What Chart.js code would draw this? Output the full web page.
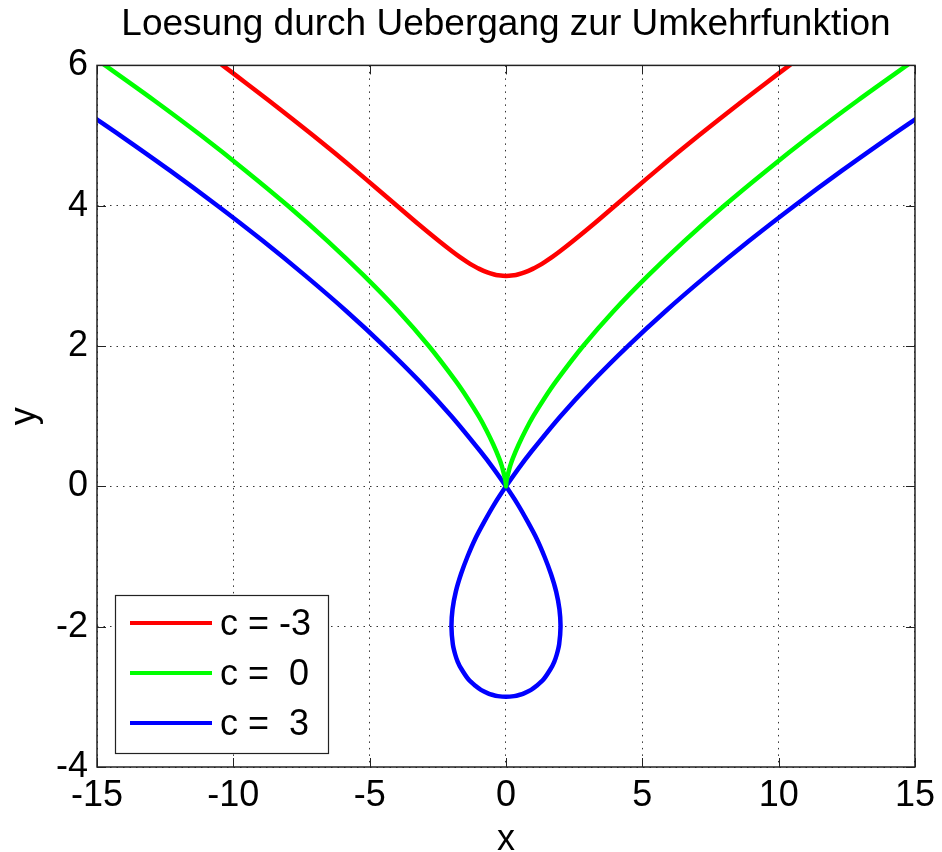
<!DOCTYPE html>
<html lang="de">
<head>
    <meta charset="UTF-8">
    <title>Loesung durch Uebergang zur Umkehrfunktion</title>
    <script src="https://cdn.jsdelivr.net/npm/chart.js"></script>
    <style>
        body { margin: 0; background: #fff; }
        canvas { display: block; }
    </style>
</head>
<body>
<canvas id="curveChart" width="942" height="852"></canvas>

<script>
    const redX = [-10.74, -10.39, -9.54, -8.70, -7.88, -7.07, -6.28, -5.51, -4.75, -4.00, -3.25, -2.47, -1.98, -1.70, -1.43, -1.22, -0.98, -0.68, -0.43, -0.30,
        0, 0.30, 0.43, 0.68, 0.98, 1.22, 1.43, 1.70, 1.98, 2.47, 3.25, 4.00, 4.75, 5.51, 6.28, 7.07, 7.88, 8.70, 9.54, 10.39, 10.74];
    const redY = [6.1, 6, 5.75, 5.5, 5.25, 5, 4.75, 4.5, 4.25, 4, 3.75, 3.5, 3.35, 3.27, 3.2, 3.15, 3.1, 3.05, 3.02, 3.01,
        3, 3.01, 3.02, 3.05, 3.1, 3.15, 3.2, 3.27, 3.35, 3.5, 3.75, 4, 4.25, 4.5, 4.75, 5, 5.25, 5.5, 5.75, 6, 6.1];

    const greenX = [-15.07, -14.70, -12.90, -11.18, -9.55, -8.00, -6.55, -5.20, -3.95, -2.83, -1.84, -1.40, -1.00, -0.72, -0.47, -0.25, -0.16, -0.09, -0.03, -0.01,
        0, 0.01, 0.03, 0.09, 0.16, 0.25, 0.47, 0.72, 1.00, 1.40, 1.84, 2.83, 3.95, 5.20, 6.55, 8.00, 9.55, 11.18, 12.90, 14.70, 15.07];
    const greenY = [6.1, 6, 5.5, 5, 4.5, 4, 3.5, 3, 2.5, 2, 1.5, 1.25, 1, 0.8, 0.6, 0.4, 0.3, 0.2, 0.1, 0.05,
        0, 0.05, 0.1, 0.2, 0.3, 0.4, 0.6, 0.8, 1, 1.25, 1.5, 2, 2.5, 3, 3.5, 4, 4.5, 5, 5.5, 6, 6.1];

    const blueX = [15.27, 14.14, 12.32, 10.58, 8.92, 7.35, 5.86, 4.47, 3.18, 2.00, 0.94, 0.45, 0,
        -0.42, -0.79, -1.13, -1.41, -1.65, -1.84, -1.96, -2.00, -1.95, -1.86, -1.77, -1.64, -1.38, -1.10, -0.92, -0.66, -0.51, -0.30,
        0, 0.30, 0.51, 0.66, 0.92, 1.10, 1.38, 1.64, 1.77, 1.86, 1.95, 2.00, 1.96, 1.84, 1.65, 1.41, 1.13, 0.79, 0.42,
        0, -0.45, -0.94, -2.00, -3.18, -4.47, -5.86, -7.35, -8.92, -10.58, -12.32, -14.14, -15.27];
    const blueY = [5.3, 5, 4.5, 4, 3.5, 3, 2.5, 2, 1.5, 1, 0.5, 0.25, 0,
        -0.25, -0.5, -0.75, -1, -1.25, -1.5, -1.75, -2, -2.25, -2.4, -2.5, -2.6, -2.75, -2.85, -2.9, -2.95, -2.97, -2.99,
        -3, -2.99, -2.97, -2.95, -2.9, -2.85, -2.75, -2.6, -2.5, -2.4, -2.25, -2, -1.75, -1.5, -1.25, -1, -0.75, -0.5, -0.25,
        0, 0.25, 0.5, 1, 1.5, 2, 2.5, 3, 3.5, 4, 4.5, 5, 5.3];

    const seriesLabels = ['c = -3', 'c =  0', 'c =  3'];
    const seriesColors = ['#ff0000', '#00ff00', '#0000ff'];
    const xTicks = [-15, -10, -5, 0, 5, 10, 15];
    const yTicks = [-4, -2, 0, 2, 4, 6];

    const FONT = 'Liberation Sans, Arial, sans-serif';

    function toPoints(xs, ys) {
        return xs.map((x, i) => ({x: x, y: ys[i]}));
    }

    // Rahmen + nach innen zeigende Ticks wie bei MATLAB
    const framePlugin = {
        id: 'frame',
        afterDatasetsDraw(chart) {
            const {ctx, chartArea: a, scales} = chart;
            ctx.save();
            ctx.strokeStyle = '#222';
            ctx.lineWidth = 1;
            ctx.beginPath();
            xTicks.forEach(v => {
                const px = Math.round(scales.x.getPixelForValue(v)) + 0.5;
                ctx.moveTo(px, a.bottom); ctx.lineTo(px, a.bottom - 9);
                ctx.moveTo(px, a.top); ctx.lineTo(px, a.top + 9);
            });
            yTicks.forEach(v => {
                const py = Math.round(scales.y.getPixelForValue(v)) + 0.5;
                ctx.moveTo(a.left, py); ctx.lineTo(a.left + 9, py);
                ctx.moveTo(a.right, py); ctx.lineTo(a.right - 9, py);
            });
            ctx.stroke();
            ctx.lineWidth = 1.5;
            ctx.strokeRect(a.left, a.top, a.right - a.left, a.bottom - a.top);
            ctx.restore();
        }
    };

    // Legende unten links im Achsenfeld
    const legendPlugin = {
        id: 'boxLegend',
        afterDraw(chart) {
            const {ctx, chartArea: a} = chart;
            const bx = a.left + 18, by = a.bottom - 172, bw = 213, bh = 158;
            ctx.save();
            ctx.fillStyle = '#fff';
            ctx.fillRect(bx, by, bw, bh);
            ctx.strokeStyle = '#222';
            ctx.lineWidth = 1.2;
            ctx.strokeRect(bx + 0.5, by + 0.5, bw, bh);
            ctx.font = '36px ' + FONT;
            ctx.textBaseline = 'middle';
            ctx.fillStyle = '#000';
            chart.data.datasets.forEach((ds, i) => {
                const ly = by + 28 + i * 50;
                ctx.strokeStyle = ds.borderColor;
                ctx.lineWidth = 4;
                ctx.beginPath();
                ctx.moveTo(bx + 15, ly);
                ctx.lineTo(bx + 97, ly);
                ctx.stroke();
                ctx.fillText(ds.label, bx + 105, ly + 2);
            });
            ctx.restore();
        }
    };

    const datasets = [
        toPoints(redX, redY),
        toPoints(greenX, greenY),
        toPoints(blueX, blueY)
    ].map((pts, i) => ({
        label: seriesLabels[i],
        data: pts,
        showLine: true,
        borderColor: seriesColors[i],
        backgroundColor: seriesColors[i],
        borderWidth: 4.5,
        pointRadius: 0,
        tension: 0.3
    }));

    const gridOpts = {
        color: '#333',
        lineWidth: 1,
        drawTicks: false
    };

    new Chart(document.getElementById('curveChart').getContext('2d'), {
        type: 'scatter',
        data: {datasets: datasets},
        options: {
            responsive: false,
            animation: false,
            devicePixelRatio: 1,
            layout: {padding: 0},
            plugins: {
                legend: {display: false},
                tooltip: {enabled: false},
                title: {
                    display: true,
                    text: 'Loesung durch Uebergang zur Umkehrfunktion',
                    color: '#000',
                    fullSize: false,
                    font: {family: FONT, size: 37, weight: 'normal', lineHeight: 1.2},
                    padding: {top: 3, bottom: 18}
                }
            },
            scales: {
                x: {
                    type: 'linear',
                    min: -15,
                    max: 15,
                    afterFit: s => { s.height = 85; },
                    afterBuildTicks: s => { s.ticks = xTicks.map(v => ({value: v})); },
                    grid: gridOpts,
                    border: {display: false, dash: [1.5, 5]},
                    ticks: {color: '#000', padding: 7, font: {family: FONT, size: 36, lineHeight: 1.2}},
                    title: {display: true, text: 'x', color: '#000', padding: 0,
                        font: {family: FONT, size: 36, lineHeight: 0.65}}
                },
                y: {
                    type: 'linear',
                    min: -4,
                    max: 6,
                    afterFit: s => { s.width = 97; },
                    afterBuildTicks: s => { s.ticks = yTicks.map(v => ({value: v})); },
                    grid: gridOpts,
                    border: {display: false, dash: [1.5, 5]},
                    ticks: {color: '#000', padding: 9, font: {family: FONT, size: 36, lineHeight: 1.2}},
                    title: {display: true, text: 'y', color: '#000', padding: {top: 3, bottom: 0},
                        font: {family: FONT, size: 36, lineHeight: 1.2}}
                }
            }
        },
        plugins: [framePlugin, legendPlugin]
    });
</script>
</body>
</html>
